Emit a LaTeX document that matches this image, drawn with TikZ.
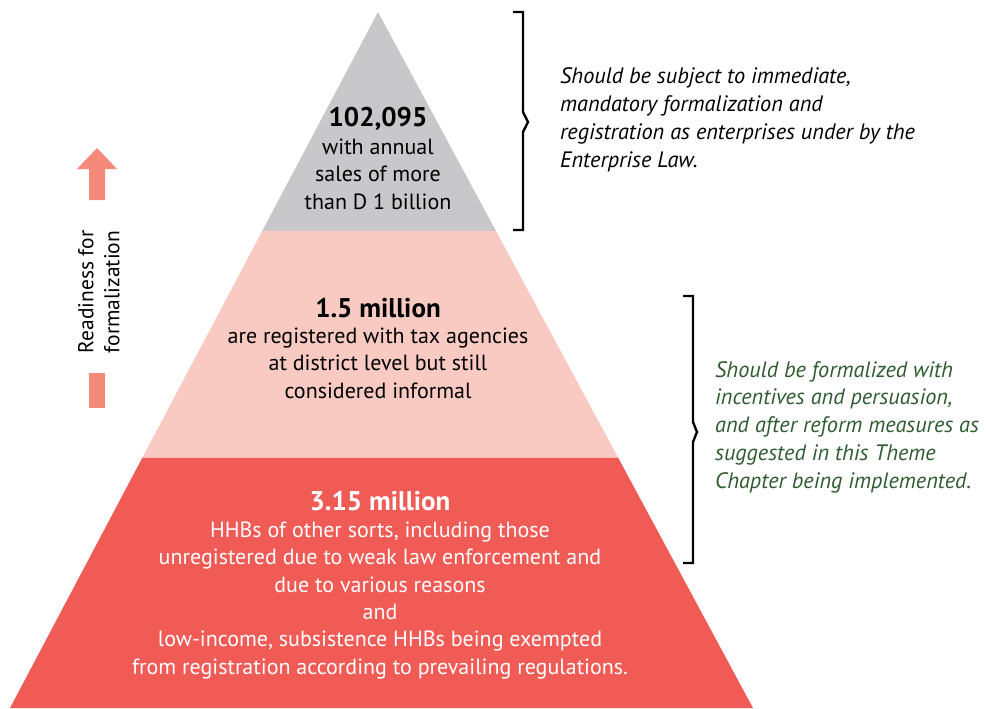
\documentclass[tikz,border=0pt]{standalone}
\usepackage{fontspec}
\setmainfont{PT Sans}
\usetikzlibrary{positioning,calc}

\definecolor{tiergray}{HTML}{C8C8CA}
\definecolor{tierpink}{HTML}{F9CAC1}
\definecolor{tierred}{HTML}{F05B56}
\definecolor{arrowsalmon}{HTML}{F58A7B}
\definecolor{notegreen}{HTML}{2E5B30}

\tikzset{
  tiertitle/.style={font=\fontsize{27}{30}\selectfont\bfseries, anchor=base},
  tiertext/.style={font=\fontsize{22}{27.3}\selectfont, align=center, anchor=base},
  note/.style={font=\fontsize{22.3}{27.7}\selectfont\itshape, align=left, anchor=base west},
  bracket/.style={line width=2.4pt}
}

\begin{document}
\begin{tikzpicture}[x=1pt,y=-1pt,inner sep=0pt]
\useasboundingbox (0,0) rectangle (986,709);

% pyramid
\coordinate (apex) at (378,12);
\coordinate (bl) at (10,708);
\coordinate (br) at (753,708);
\coordinate (gl) at ($(apex)!0.3147!(bl)$);
\coordinate (gr) at ($(apex)!0.3147!(br)$);
\coordinate (pl) at ($(apex)!0.6408!(bl)$);
\coordinate (pr) at ($(apex)!0.6408!(br)$);
\fill[tiergray] (apex) -- (gr) -- (gl) -- cycle;
\fill[tierpink] (gl) -- (gr) -- (pr) -- (pl) -- cycle;
\fill[tierred] (pl) -- (pr) -- (br) -- (bl) -- cycle;

% tier labels (base = last line)
\node[tiertitle] (toptitle) at (378,127) {102,095};
\node[tiertext] (toptext) at (378,209) {with annual\\sales of more\\than D 1 billion};
\node[tiertitle] (midtitle) at (378,317) {1.5 million};
\node[tiertext] (midtext) at (378,398) {are registered with tax agencies\\at district level but still\\considered informal};
\node[tiertitle,white] (lowtitle) at (380,510) {3.15 million};
\node[tiertext,white] (lowtext) at (380,674) {HHBs of other sorts, including those\\unregistered due to weak law enforcement and\\due to various reasons\\and\\low-income, subsistence HHBs being exempted\\from registration according to prevailing regulations.};

% readiness arrow
\fill[arrowsalmon] (89,200) -- (89,169) -- (77,169) -- (97,148) -- (117,169) -- (105,169) -- (105,200) -- cycle;
\fill[arrowsalmon] (89,373) rectangle (105,408);
\node[font=\fontsize{21.5}{26}\selectfont, align=center, rotate=90] (ready) at (99,292) {Readiness for\\formalization};

% brackets
\coordinate (b1top) at (513,12);
\coordinate (b1bot) at (513,230);
\draw[bracket] (b1top) -- ++(10,0) -- ++(0,100) -- ++(5,10) -- ++(-5,10) |- (b1bot);
\node[note] (note1) at (560,167) {Should be subject to immediate,\\mandatory formalization and\\registration as enterprises under by the\\Enterprise Law.};

\coordinate (b2top) at (683,296);
\coordinate (b2bot) at (683,563);
\draw[bracket] (b2top) -- ++(10,0) -- ++(0,126) -- ++(4,10) -- ++(-4,10) |- (b2bot);
\node[note,notegreen] (note2) at (715,488) {Should be formalized with\\incentives and persuasion,\\and after reform measures as\\suggested in this Theme\\Chapter being implemented.};
\end{tikzpicture}
\end{document}
